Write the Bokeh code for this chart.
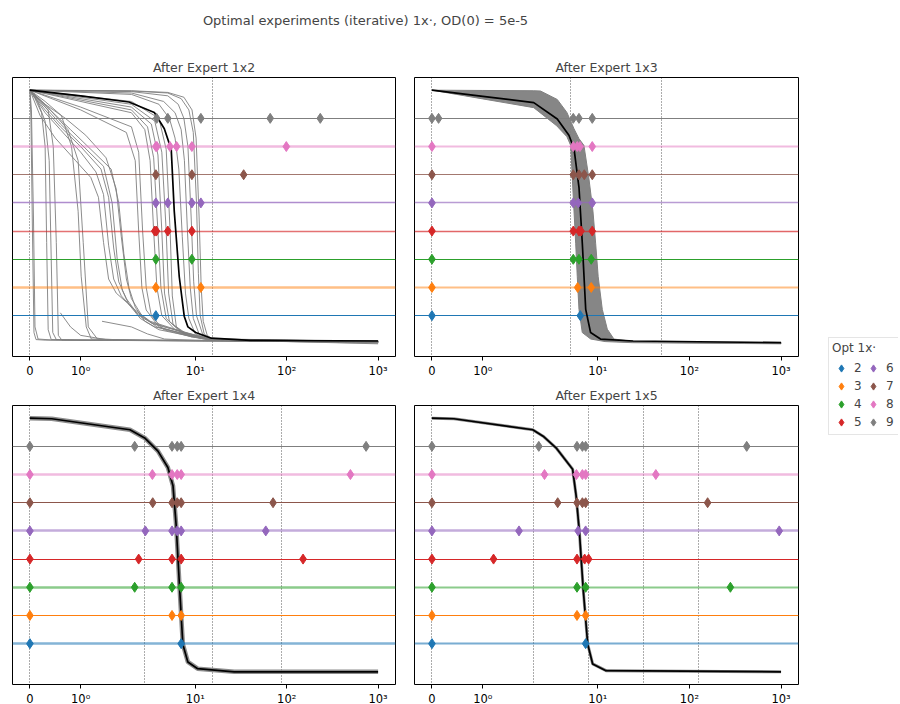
import math
from bokeh.plotting import figure
from bokeh.layouts import row, column
from bokeh.models import Range1d, FixedTicker, Legend, LegendItem, ColumnDataSource
from bokeh.embed import file_html
from bokeh.resources import INLINE

# ---------------- data ----------------
SUPTITLE = "Optimal experiments (iterative) 1x·, OD(0) = 5e-5"
PANEL_TITLES = ["After Expert 1x2", "After Expert 1x3", "After Expert 1x4", "After Expert 1x5"]
LEGEND_TITLE = "Opt 1x·"
LEVELS = [2, 3, 4, 5, 6, 7, 8, 9]
LEVEL_COLORS = ["#1f77b4", "#ff7f0e", "#2ca02c", "#d62728",
                "#9467bd", "#8c564b", "#e377c2", "#7f7f7f"]
X_TICKS = [0, 1, 10, 100, 1000]
X_TICK_LABELS = ["0", "10⁰", "10¹", "10²", "10³"]
X_MAX = 1000
Y_MIN, Y_MAX = 1.0, 10.0

# experiment times per level (2..9) for each panel
EXP_1 = [[3.7], [3.7, 11.5], [3.7, 9.17], [3.6, 3.75, 5.0, 9.17],
         [3.7, 5.0, 9.17, 11.5], [3.7, 9.17, 33.8],
         [3.7, 3.8, 5.28, 6.24, 9.17, 99], [3.78, 5.0, 11.5, 66, 233]]
EXP_2 = [[0, 6.44], [0, 6.03, 8.48], [0, 5.4, 6.23, 8.48],
         [0, 5.4, 6.23, 6.56, 8.7], [0, 5.4, 6.12, 8.7],
         [0, 5.4, 6.23, 7.12, 8.7], [0, 5.4, 5.97, 6.39, 8.7],
         [0, 0.13, 5.4, 6.23, 8.7]]
EXP_3 = [[0, 7.0], [0, 5.56, 7.0], [0, 2.17, 5.56, 7.0],
         [0, 2.4, 5.56, 7.0, 151], [0, 2.84, 5.56, 6.34, 7.0, 59],
         [0, 3.42, 5.56, 6.34, 7.0, 70.9], [0, 3.39, 5.56, 6.34, 7.0, 498],
         [0, 2.17, 5.56, 6.34, 7.0, 739]]
EXP_4 = [[0, 7.37], [0, 5.93, 7.37], [0, 5.93, 7.37, 280],
         [0, 1.21, 5.93, 7.19, 7.94], [0, 1.71, 6.1, 7.37, 955],
         [0, 3.65, 5.93, 6.79, 7.37, 158], [0, 2.62, 5.85, 6.79, 7.37, 43],
         [0, 2.27, 5.93, 6.79, 7.37, 422]]
EXPS = [EXP_1, EXP_2, EXP_3, EXP_4]

VLINES = [[0, 15.5], [0, 5.0, 50], [0, 2.75, 15.6, 87.6], [0, 2.0, 8.0, 31.8, 125.5]]

# black (best) curves
B1_X = [0, 1.0, 1.95, 3.56, 4.58, 5.45, 5.88, 6.67, 7.56, 8.3, 10.1, 15, 40, 1000]
B1_Y = [10, 9.8, 9.58, 9.21, 8.63, 7.9, 5.71, 3.38, 1.98, 1.6, 1.4, 1.2, 1.12, 1.1]
B2_X = [0, 1.0, 2.0, 3.61, 4.84, 5.5, 6.24, 6.78, 7.38, 8.34, 10.7, 24.3, 1000]
B2_Y = [10, 9.78, 9.56, 8.98, 8.40, 7.93, 6.53, 4.55, 2.22, 1.40, 1.17, 1.1, 1.04]
B3_X = [0, 0.43, 1.97, 2.79, 3.9, 5.01, 5.7, 6.17, 6.7, 7.3, 8.28, 10.6, 26.7, 1000]
B3_Y = [10, 9.98, 9.59, 9.30, 8.83, 8.25, 7.60, 6.2, 4.09, 1.98, 1.35, 1.11, 1.0, 1.0]
B4_X = [0, 0.43, 1.98, 2.53, 3.5, 5.31, 5.8, 6.3, 6.96, 7.76, 8.79, 12.3, 1000]
B4_Y = [10, 9.98, 9.59, 9.36, 8.95, 8.19, 7.25, 5.95, 3.85, 1.98, 1.28, 1.04, 1.0]
BLACK_X = [B1_X, B2_X, B3_X, B4_X]
BLACK_Y = [B1_Y, B2_Y, B3_Y, B4_Y]

# gray sampled curves, panel 1
G1_X = [
    [0, 0.02, 0.05, 0.08, 0.12, 0.3, 1000],
    [0, 0.03, 0.07, 0.1, 0.16, 0.4, 1000],
    [0, 0.1, 0.23, 0.3, 0.33, 0.36, 0.42, 1.0, 1000],
    [0, 0.15, 0.3, 0.38, 0.42, 0.45, 0.52, 1.2, 1000],
    [0, 0.2, 0.36, 0.46, 0.52, 0.56, 0.63, 1.5, 1000],
    [0, 0.3, 0.62, 0.82, 0.95, 1.01, 1.11, 1.21, 2.5, 1000],
    [0, 0.35, 0.75, 0.95, 1.05, 1.15, 1.33, 2.0, 5, 1000],
    [0.6, 0.8, 1.0, 1.5, 3, 10, 1000],
    [1.42, 2, 3, 4.6, 10, 30, 1000],
    [0, 0.3, 0.6, 1.0, 1.3, 1.45, 1.55, 1.65, 1.8, 2.3, 3.3, 7.7, 14, 1000],
    [0, 0.3, 0.6, 1.0, 1.4, 1.55, 1.65, 1.75, 1.9, 2.4, 3.5, 8, 15, 1000],
    [0, 0.3, 0.6, 1.0, 1.45, 1.62, 1.72, 1.82, 1.95, 2.5, 3.6, 8, 15, 1000],
    [0, 0.4, 0.8, 1.2, 1.6, 1.75, 1.85, 1.95, 2.2, 2.8, 4, 8, 15, 1000],
    [0, 0.2, 0.5, 0.9, 1.2, 1.35, 1.45, 1.55, 1.7, 2.2, 3.2, 7, 14, 1000],
    [0, 0.3, 0.7, 1.1, 1.5, 1.7, 1.8, 1.9, 2.0, 2.6, 3.8, 8, 15, 1000],
    [0, 1.0, 1.9, 2.2, 2.4, 2.6, 2.9, 4, 8, 15, 1000],
    [0, 1.0, 2.0, 2.4, 2.65, 2.9, 3.3, 4.5, 9, 16, 1000],
    [0, 2, 2.8, 3.2, 3.5, 3.8, 4.3, 6, 10, 20, 1000],
    [0, 2, 3.0, 3.5, 3.9, 4.2, 4.8, 7, 12, 20, 1000],
    [0, 2, 3.3, 3.9, 4.3, 4.6, 5.2, 7.5, 12, 20, 1000],
    [0, 2, 3.6, 4.3, 4.8, 5.1, 5.7, 8, 13, 20, 1000],
    [0, 2, 4.0, 4.8, 5.3, 5.6, 6.2, 9, 14, 20, 1000],
    [0, 2, 5, 7, 8.5, 9.5, 10.3, 10.8, 11.3, 12.5, 15, 1000],
    [0, 2, 5, 7.5, 9.2, 10.2, 11.0, 11.6, 12.2, 13.5, 16, 1000],
    [0, 2, 5, 6.5, 7.5, 8.3, 9.0, 9.6, 10.3, 12, 15, 1000],
    [0, 2, 4.5, 6, 7, 7.6, 8.2, 8.8, 9.5, 11, 15, 1000],
    [0, 2, 4, 5.2, 6, 6.6, 7.2, 7.8, 8.5, 10, 15, 1000],
]
G1_Y = [
    [10, 9.0, 5.0, 1.4, 1.15, 1.13, 1.08],
    [10, 9.3, 5.5, 1.6, 1.17, 1.14, 1.1],
    [10, 9.7, 9.2, 8.0, 4.6, 1.5, 1.15, 1.13, 1.08],
    [10, 9.6, 8.9, 7.5, 4.0, 1.4, 1.15, 1.13, 1.1],
    [10, 9.6, 9.3, 8.0, 4.6, 1.3, 1.13, 1.12, 1.08],
    [10, 9.6, 9.1, 8.0, 5.7, 3.4, 1.6, 1.17, 1.13, 1.1],
    [10, 9.4, 8.6, 7.5, 4.6, 1.6, 1.17, 1.13, 1.12, 1.1],
    [2.1, 1.6, 1.3, 1.15, 1.12, 1.1, 1.08],
    [1.8, 1.6, 1.35, 1.17, 1.12, 1.1, 1.05],
    [10, 9.2, 8.6, 7.8, 7.1, 6.3, 4.5, 3.3, 2.7, 2.1, 1.75, 1.4, 1.17, 1.08],
    [10, 9.3, 8.7, 8.0, 7.2, 6.2, 4.4, 3.2, 2.6, 2.0, 1.7, 1.38, 1.16, 1.08],
    [10, 9.4, 8.8, 8.1, 7.3, 6.0, 4.0, 2.9, 2.4, 1.9, 1.6, 1.35, 1.15, 1.06],
    [10, 9.3, 8.6, 7.9, 7.2, 6.0, 4.2, 3.0, 2.3, 1.8, 1.5, 1.3, 1.15, 1.05],
    [10, 9.1, 8.3, 7.5, 6.9, 6.2, 4.6, 3.3, 2.8, 2.2, 1.8, 1.45, 1.18, 1.08],
    [10, 9.5, 9.0, 8.4, 7.6, 6.5, 4.8, 3.3, 2.6, 2.0, 1.6, 1.33, 1.15, 1.0],
    [10, 9.3, 8.5, 7.5, 5.0, 3.0, 2.2, 1.6, 1.3, 1.15, 1.08],
    [10, 9.4, 8.7, 7.8, 5.0, 3.0, 2.0, 1.5, 1.25, 1.13, 1.06],
    [10, 9.2, 8.6, 7.5, 5.0, 3.0, 2.0, 1.5, 1.25, 1.13, 1.08],
    [10, 9.3, 8.7, 7.6, 5.0, 3.0, 1.9, 1.4, 1.2, 1.13, 1.05],
    [10, 9.4, 8.8, 7.7, 5.0, 2.8, 1.8, 1.35, 1.18, 1.12, 1.08],
    [10, 9.5, 8.9, 7.8, 5.0, 2.8, 1.7, 1.3, 1.17, 1.12, 1.02],
    [10, 9.6, 9.0, 7.9, 5.0, 2.7, 1.6, 1.25, 1.15, 1.12, 1.08],
    [10, 9.97, 9.9, 9.7, 9.3, 8.5, 6.0, 3.5, 2.0, 1.35, 1.15, 1.05],
    [10, 9.98, 9.92, 9.75, 9.3, 8.3, 5.5, 3.0, 1.8, 1.3, 1.13, 1.05],
    [10, 9.95, 9.8, 9.5, 9.0, 8.0, 5.5, 3.2, 2.0, 1.35, 1.15, 1.06],
    [10, 9.9, 9.6, 9.2, 8.6, 7.5, 5.0, 3.0, 1.9, 1.35, 1.15, 1.06],
    [10, 9.85, 9.5, 9.0, 8.3, 7.2, 4.8, 2.8, 1.9, 1.35, 1.15, 1.06],
]

# panel 2: envelope of the dense bundle of sampled curves
U2_X = [0, 1.0, 2.0, 2.37, 3.61, 4.6, 5.5, 6.23, 7.06, 7.99, 8.85, 9.48, 10.1, 11.2, 12.7, 15, 25, 1000]
U2_Y = [10, 9.99, 9.98, 9.97, 9.67, 9.21, 8.63, 8.28, 8.04, 6.88, 5.71, 4.55, 3.38, 2.22, 1.52, 1.17, 1.08, 1.05]
L2_X = [0, 1.0, 2.0, 3.55, 4.6, 5.06, 5.27, 5.5, 5.74, 5.97, 6.23, 6.77, 8.36, 12, 24, 1000]
L2_Y = [10, 9.69, 9.38, 8.74, 8.35, 8.04, 6.88, 5.71, 4.55, 3.38, 2.22, 1.4, 1.17, 1.08, 1.04, 1.0]

# level-line styling per panel (levels 2..9)
LINE_W = [[1, 2.5, 1, 1.5, 1.5, 1.2, 2.5, 1],
          [1, 2, 1, 1.5, 1.5, 1.2, 2, 1],
          [2.5, 1, 2.5, 1, 2.5, 1, 2.5, 1],
          [2, 1, 2, 1, 2.5, 1, 2.5, 1]]
LINE_A = [[1, .5, 1, .65, .75, .8, .5, 1],
          [1, .5, 1, .7, .65, .8, .5, 1],
          [.55, 1, .55, 1, .55, 1, .5, 1],
          [.6, 1, .55, 1, .55, 1, .5, 1]]

# ---------------- symlog (matplotlib defaults: linthresh=2, linscale=1) ----------------
LINTHRESH = 2.0
LINSCALE_ADJ = 1.0 / (1.0 - 0.1)


def sl(v):
    a = abs(v)
    if a <= LINTHRESH:
        return v * LINSCALE_ADJ
    return math.copysign(LINTHRESH * (LINSCALE_ADJ + math.log10(a / LINTHRESH)), v)


def slv(vals):
    return [sl(v) for v in vals]


FONT = "DejaVu Sans"
FH = 279
T0, T1 = sl(0), sl(X_MAX)
XM = 0.05 * (T1 - T0)
YM = 0.05 * (Y_MAX - Y_MIN)
TICKS_T = slv(X_TICKS)


def panel(i, fw, left, right, top, bottom):
    p = figure(frame_width=fw, frame_height=FH,
               x_range=Range1d(T0 - XM, T1 + XM), y_range=Range1d(Y_MIN - YM, Y_MAX + YM),
               output_backend="svg", toolbar_location=None,
               min_border_left=left, min_border_right=right,
               min_border_top=top, min_border_bottom=bottom,
               title=PANEL_TITLES[i])
    p.title.align = "center"
    p.title.text_font = FONT
    p.title.text_font_size = "12.5px"
    p.title.text_font_style = "normal"
    p.title.standoff = 5
    p.grid.visible = False
    p.yaxis.visible = False
    p.outline_line_color = "black"
    p.outline_line_width = 1
    ax = p.xaxis[0]
    ax.ticker = FixedTicker(ticks=TICKS_T, minor_ticks=[])
    ax.major_label_overrides = {t: lab for t, lab in zip(TICKS_T, X_TICK_LABELS)}
    ax.axis_line_color = None
    ax.major_tick_in = 0
    ax.major_tick_out = 4
    ax.major_tick_line_color = "black"
    ax.major_label_standoff = 3
    ax.major_label_text_font = FONT
    ax.major_label_text_font_size = "11.5px"
    ax.major_label_text_color = "black"

    # vertical dotted lines (experiment times)
    p.vspan(x=slv(VLINES[i]), line_color="black", line_dash="1 2", line_width=1, line_alpha=0.65)

    # gray sampled curves
    if i == 0:
        p.multi_line(xs=[slv(c) for c in G1_X], ys=G1_Y, line_color="gray", line_width=1, line_alpha=0.9)
    elif i == 1:
        px = slv(U2_X) + slv(L2_X)[::-1]
        py = U2_Y + L2_Y[::-1]
        p.patch(x=px, y=py, fill_color="gray", fill_alpha=0.95, line_color="gray", line_width=1)
    else:
        p.line(x=slv(BLACK_X[i]), y=BLACK_Y[i], line_color="gray",
               line_width=4.5 if i == 2 else 3, line_alpha=0.9)

    # level lines
    src = ColumnDataSource(dict(y=LEVELS, color=LEVEL_COLORS, w=LINE_W[i], a=LINE_A[i]))
    p.hspan(y="y", line_color="color", line_width="w", line_alpha="a", source=src)

    # best curve
    p.line(x=slv(BLACK_X[i]), y=BLACK_Y[i], line_color="black", line_width=1.7)

    # experiment markers
    for lev, col, xs in zip(LEVELS, LEVEL_COLORS, EXPS[i]):
        p.scatter(x=slv(xs), y=[lev] * len(xs), marker="diamond", size=10,
                  fill_color=col, line_color=col)
    return p


TITLE_H = 46
tl = panel(0, 383, 12, 9, 31, 21)
tr = panel(1, 384, 10, 10, 31, 21)
bl = panel(2, 383, 12, 9, 25, 19)
br = panel(3, 384, 10, 10, 25, 19)

# suptitle
st = figure(width=730, height=TITLE_H, output_backend="svg", toolbar_location=None,
            min_border_left=0, min_border_right=0, min_border_top=27, min_border_bottom=0,
            title=SUPTITLE, outline_line_color=None)
st.title.align = "center"
st.title.text_font = FONT
st.title.text_font_size = "13px"
st.title.text_font_style = "normal"
st.title.standoff = 0
st.axis.visible = False
st.grid.visible = False

# legend
GRID_H = 702 - TITLE_H
lg = figure(width=90, height=GRID_H, output_backend="svg", toolbar_location=None,
            min_border=0, outline_line_color=None,
            x_range=Range1d(0, 1), y_range=Range1d(0, 1))
lg.axis.visible = False
lg.grid.visible = False
items = []
for lev, col in zip(LEVELS, LEVEL_COLORS):
    # the level value lies outside this legend-only figure's range, so only the legend glyph shows
    r = lg.scatter(x=[lev], y=[lev], marker="diamond", size=10, fill_color=col, line_color=col)
    items.append(LegendItem(label=str(lev), renderers=[r]))
leg = Legend(items=items, title=LEGEND_TITLE, ncols=2, location=(20, 702 - 435),
             label_text_font=FONT, label_text_font_size="12px",
             title_text_font=FONT, title_text_font_size="12px", title_text_font_style="normal",
             title_standoff=4, padding=3, margin=0, spacing=0,
             glyph_width=18, glyph_height=18, label_height=18, label_width=10, label_standoff=4,
             border_line_color="#cccccc", border_line_width=1, background_fill_alpha=1)
lg.add_layout(leg, "center")

layout = column(st, row(column(row(tl, tr), row(bl, br)), lg))

open("out.html", "w").write(file_html(layout, INLINE))
